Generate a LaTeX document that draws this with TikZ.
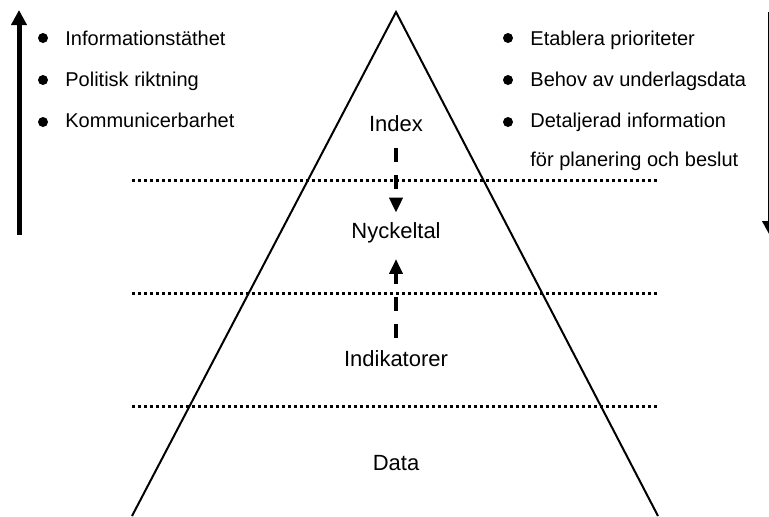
\documentclass[tikz,border=0pt]{standalone}
\usepackage{fontspec}
\setmainfont{Liberation Sans}
\usetikzlibrary{arrows.meta}
\begin{document}
\begin{tikzpicture}[x=0.5pt,y=-0.5pt,
    level/.style = {font=\fontsize{11}{13}\selectfont, inner sep=0pt, anchor=base},
    item/.style = {font=\fontsize{10}{12}\selectfont, inner sep=0pt, anchor=base west},
    dot/.style = {circle, fill=black, inner sep=0pt, minimum size=5pt},
    sep/.style = {line width=1.5pt, dash pattern=on 1.5pt off 1.5pt},
    flow/.style = {line width=2pt, dash pattern=on 7pt off 6.5pt,
        -{Triangle[length=7.5pt,width=6.5pt]}},
    trend/.style = {line width=2.5pt, -{Triangle[length=7.5pt,width=7.5pt]}}]
    \useasboundingbox (0,0) rectangle (769,516);
    \coordinate (top) at (396,12);
    \coordinate (bl) at (132,516);
    \coordinate (br) at (658,516);
    \draw[line width=1pt] (bl) -- (top) -- (br);
    \foreach \y in {180,293,406}
        \draw[sep] (132,\y) -- (658,\y);
    \node[level] (index) at (396,131) {Index};
    \node[level] (nyckeltal) at (396,238) {Nyckeltal};
    \node[level] (indikatorer) at (396,366) {Indikatorer};
    \node[level] (data) at (396,470) {Data};
    \path
        (index) edge[flow, shorten <=8pt, shorten >=4.5pt] (nyckeltal)
        (indikatorer) edge[flow, shorten <=6pt, shorten >=8pt] (nyckeltal);
    \node[dot] (l1) at (43,38) {};
    \node[dot] (l2) at (43,80) {};
    \node[dot] (l3) at (43,122) {};
    \node[item] (t1) at (65,45) {Informationstäthet};
    \node[item] (t2) at (65,86) {Politisk riktning};
    \node[item] (t3) at (65,127) {Kommunicerbarhet};
    \node[dot] (r1) at (508,38) {};
    \node[dot] (r2) at (508,80) {};
    \node[dot] (r3) at (508,122) {};
    \node[item] (s1) at (530,45) {Etablera prioriteter};
    \node[item] (s2) at (530,86) {Behov av underlagsdata};
    \node[item] (s3) at (530,127) {Detaljerad information};
    \node[item] (s4) at (530,166) {för planering och beslut};
    \coordinate (up0) at (19,235);
    \coordinate (up1) at (19,10);
    \coordinate (dn0) at (770,12);
    \coordinate (dn1) at (770,236);
    \draw[trend] (up0) -- (up1);
    \draw[trend] (dn0) -- (dn1);
\end{tikzpicture}
\end{document}
